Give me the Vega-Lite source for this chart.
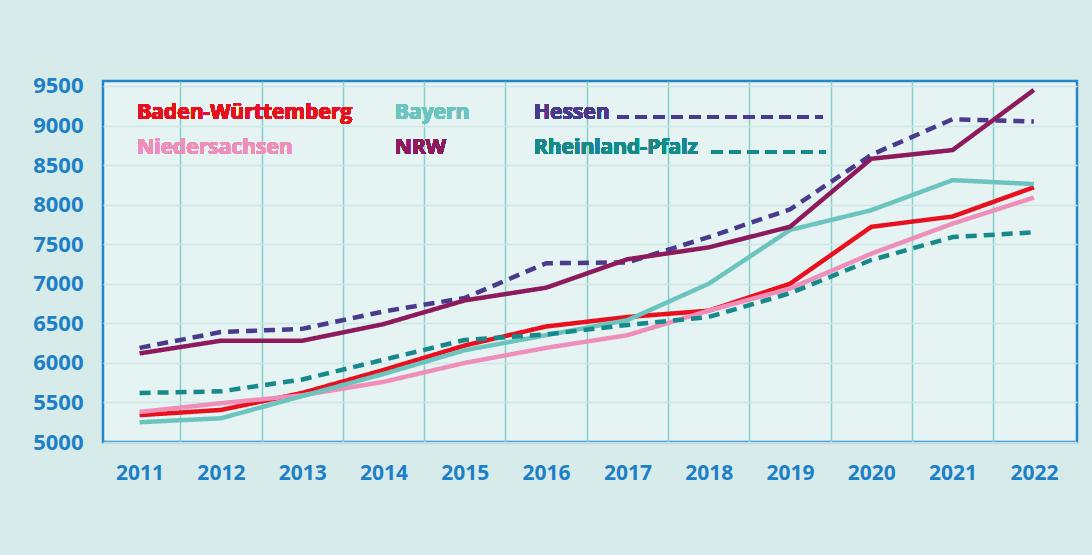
{
  "$schema": "https://vega.github.io/schema/vega-lite/v6.json",
  "autosize": {"type": "none"},
  "width": 974,
  "height": 361,
  "padding": {"left": 103, "top": 81, "right": 15, "bottom": 113},
  "background": "#d7ecea",
  "config": {
    "view": {"fill": "#e5f3f3", "stroke": "#2585c9", "strokeWidth": 2.5},
    "font": "Open Sans",
    "axis": {"labelFont": "Open Sans", "labelFontWeight": "bold", "labelColor": "#1d80c6", "labelFontSize": 21, "ticks": false, "domain": false, "title": null}
  },
  "data": {
    "values": [
      {"year": 2011, "land": "Baden-Württemberg", "value": 5340},
      {"year": 2012, "land": "Baden-Württemberg", "value": 5405},
      {"year": 2013, "land": "Baden-Württemberg", "value": 5620},
      {"year": 2014, "land": "Baden-Württemberg", "value": 5910},
      {"year": 2015, "land": "Baden-Württemberg", "value": 6220},
      {"year": 2016, "land": "Baden-Württemberg", "value": 6460},
      {"year": 2017, "land": "Baden-Württemberg", "value": 6580},
      {"year": 2018, "land": "Baden-Württemberg", "value": 6660},
      {"year": 2019, "land": "Baden-Württemberg", "value": 7000},
      {"year": 2020, "land": "Baden-Württemberg", "value": 7720},
      {"year": 2021, "land": "Baden-Württemberg", "value": 7850},
      {"year": 2022, "land": "Baden-Württemberg", "value": 8220},
      {"year": 2011, "land": "Niedersachsen", "value": 5380},
      {"year": 2012, "land": "Niedersachsen", "value": 5490},
      {"year": 2013, "land": "Niedersachsen", "value": 5590},
      {"year": 2014, "land": "Niedersachsen", "value": 5760},
      {"year": 2015, "land": "Niedersachsen", "value": 6000},
      {"year": 2016, "land": "Niedersachsen", "value": 6190},
      {"year": 2017, "land": "Niedersachsen", "value": 6350},
      {"year": 2018, "land": "Niedersachsen", "value": 6660},
      {"year": 2019, "land": "Niedersachsen", "value": 6940},
      {"year": 2020, "land": "Niedersachsen", "value": 7380},
      {"year": 2021, "land": "Niedersachsen", "value": 7760},
      {"year": 2022, "land": "Niedersachsen", "value": 8090},
      {"year": 2011, "land": "Bayern", "value": 5250},
      {"year": 2012, "land": "Bayern", "value": 5300},
      {"year": 2013, "land": "Bayern", "value": 5580},
      {"year": 2014, "land": "Bayern", "value": 5860},
      {"year": 2015, "land": "Bayern", "value": 6160},
      {"year": 2016, "land": "Bayern", "value": 6350},
      {"year": 2017, "land": "Bayern", "value": 6540},
      {"year": 2018, "land": "Bayern", "value": 7000},
      {"year": 2019, "land": "Bayern", "value": 7680},
      {"year": 2020, "land": "Bayern", "value": 7930},
      {"year": 2021, "land": "Bayern", "value": 8310},
      {"year": 2022, "land": "Bayern", "value": 8260},
      {"year": 2011, "land": "Rheinland-Pfalz", "value": 5620},
      {"year": 2012, "land": "Rheinland-Pfalz", "value": 5640},
      {"year": 2013, "land": "Rheinland-Pfalz", "value": 5790},
      {"year": 2014, "land": "Rheinland-Pfalz", "value": 6040},
      {"year": 2015, "land": "Rheinland-Pfalz", "value": 6290},
      {"year": 2016, "land": "Rheinland-Pfalz", "value": 6360},
      {"year": 2017, "land": "Rheinland-Pfalz", "value": 6480},
      {"year": 2018, "land": "Rheinland-Pfalz", "value": 6580},
      {"year": 2019, "land": "Rheinland-Pfalz", "value": 6880},
      {"year": 2020, "land": "Rheinland-Pfalz", "value": 7300},
      {"year": 2021, "land": "Rheinland-Pfalz", "value": 7590},
      {"year": 2022, "land": "Rheinland-Pfalz", "value": 7650},
      {"year": 2011, "land": "Hessen", "value": 6190},
      {"year": 2012, "land": "Hessen", "value": 6390},
      {"year": 2013, "land": "Hessen", "value": 6430},
      {"year": 2014, "land": "Hessen", "value": 6650},
      {"year": 2015, "land": "Hessen", "value": 6820},
      {"year": 2016, "land": "Hessen", "value": 7260},
      {"year": 2017, "land": "Hessen", "value": 7270},
      {"year": 2018, "land": "Hessen", "value": 7590},
      {"year": 2019, "land": "Hessen", "value": 7940},
      {"year": 2020, "land": "Hessen", "value": 8630},
      {"year": 2021, "land": "Hessen", "value": 9080},
      {"year": 2022, "land": "Hessen", "value": 9050},
      {"year": 2011, "land": "NRW", "value": 6120},
      {"year": 2012, "land": "NRW", "value": 6280},
      {"year": 2013, "land": "NRW", "value": 6280},
      {"year": 2014, "land": "NRW", "value": 6490},
      {"year": 2015, "land": "NRW", "value": 6790},
      {"year": 2016, "land": "NRW", "value": 6950},
      {"year": 2017, "land": "NRW", "value": 7310},
      {"year": 2018, "land": "NRW", "value": 7460},
      {"year": 2019, "land": "NRW", "value": 7720},
      {"year": 2020, "land": "NRW", "value": 8580},
      {"year": 2021, "land": "NRW", "value": 8690},
      {"year": 2022, "land": "NRW", "value": 9450}
    ]
  },
  "resolve": {"axis": {"x": "independent"}},
  "layer": [
    {
      "mark": {"type": "line", "strokeCap": "butt", "strokeJoin": "round"},
      "encoding": {
        "x": {"field": "year", "type": "quantitative",
              "scale": {"domain": [2010.55, 2022.53], "nice": false, "zero": false},
              "axis": {"orient": "bottom", "values": [2011, 2012, 2013, 2014, 2015, 2016, 2017, 2018, 2019, 2020, 2021, 2022], "format": "d", "grid": false, "labelPadding": 20}},
        "y": {"field": "value", "type": "quantitative",
              "scale": {"domain": [5000, 9563], "nice": false, "zero": false},
              "axis": {"values": [5000, 5500, 6000, 6500, 7000, 7500, 8000, 8500, 9000, 9500], "format": "d", "labelPadding": 20, "labelFontSize": 22, "grid": true, "gridColor": "#d0e7e6", "gridWidth": 1.5}},
        "color": {"field": "land", "type": "nominal", "legend": null,
                  "scale": {"domain": ["Baden-Württemberg", "Bayern", "Hessen", "Niedersachsen", "NRW", "Rheinland-Pfalz"],
                            "range": ["#e8101e", "#6cc4bf", "#4a3a8c", "#ef8fb9", "#8c1a5c", "#17898a"]}},
        "strokeDash": {"field": "land", "type": "nominal", "legend": null,
                  "scale": {"domain": ["Baden-Württemberg", "Bayern", "Hessen", "Niedersachsen", "NRW", "Rheinland-Pfalz"],
                            "range": [[1, 0], [1, 0], [11, 7], [1, 0], [1, 0], [11, 7]]}},
        "strokeWidth": {"field": "land", "type": "nominal", "legend": null,
                  "scale": {"domain": ["Baden-Württemberg", "Bayern", "Hessen", "Niedersachsen", "NRW", "Rheinland-Pfalz"],
                            "range": [4.5, 4.5, 3.8, 4.5, 4.5, 3.8]}},
        "order": {"field": "year"}
      }
    },
    {
      "mark": {"type": "rule", "stroke": "#4a3a8c", "strokeWidth": 3.8, "strokeDash": [11, 7]},
      "encoding": {
        "x": {"datum": 2016.88, "type": "quantitative",
              "axis": {"orient": "bottom", "values": [2011.5, 2012.5, 2013.5, 2014.5, 2015.5, 2016.5, 2017.5, 2018.5, 2019.5, 2020.5, 2021.5], "labels": false, "grid": true, "gridColor": "#86d0cb", "gridWidth": 1.5}},
        "x2": {"datum": 2019.4},
        "y": {"datum": 9110, "type": "quantitative"}
      }
    },
    {
      "mark": {"type": "rule", "stroke": "#17898a", "strokeWidth": 3.8, "strokeDash": [11, 7]},
      "encoding": {
        "x": {"datum": 2018.04, "type": "quantitative", "axis": null},
        "x2": {"datum": 2019.44},
        "y": {"datum": 8665, "type": "quantitative"}
      }
    },
    {
      "mark": {"type": "text", "text": "Baden-Württemberg", "fill": "#e8101e", "font": "Open Sans", "fontWeight": "bold", "fontSize": 21, "align": "left", "baseline": "alphabetic"},
      "encoding": {"x": {"datum": 2010.97, "type": "quantitative", "axis": null}, "y": {"datum": 9085, "type": "quantitative"}}
    },
    {
      "mark": {"type": "text", "text": "Niedersachsen", "fill": "#ef8fb9", "font": "Open Sans", "fontWeight": "bold", "fontSize": 21, "align": "left", "baseline": "alphabetic"},
      "encoding": {"x": {"datum": 2010.97, "type": "quantitative", "axis": null}, "y": {"datum": 8646, "type": "quantitative"}}
    },
    {
      "mark": {"type": "text", "text": "Bayern", "fill": "#6cc4bf", "font": "Open Sans", "fontWeight": "bold", "fontSize": 21, "align": "left", "baseline": "alphabetic"},
      "encoding": {"x": {"datum": 2014.14, "type": "quantitative", "axis": null}, "y": {"datum": 9085, "type": "quantitative"}}
    },
    {
      "mark": {"type": "text", "text": "NRW", "fill": "#8c1a5c", "font": "Open Sans", "fontWeight": "bold", "fontSize": 21, "align": "left", "baseline": "alphabetic"},
      "encoding": {"x": {"datum": 2014.14, "type": "quantitative", "axis": null}, "y": {"datum": 8646, "type": "quantitative"}}
    },
    {
      "mark": {"type": "text", "text": "Hessen", "fill": "#4a3a8c", "font": "Open Sans", "fontWeight": "bold", "fontSize": 21, "align": "left", "baseline": "alphabetic"},
      "encoding": {"x": {"datum": 2015.85, "type": "quantitative", "axis": null}, "y": {"datum": 9085, "type": "quantitative"}}
    },
    {
      "mark": {"type": "text", "text": "Rheinland-Pfalz", "fill": "#17898a", "font": "Open Sans", "fontWeight": "bold", "fontSize": 21, "align": "left", "baseline": "alphabetic"},
      "encoding": {"x": {"datum": 2015.85, "type": "quantitative", "axis": null}, "y": {"datum": 8646, "type": "quantitative"}}
    }
  ]
}
